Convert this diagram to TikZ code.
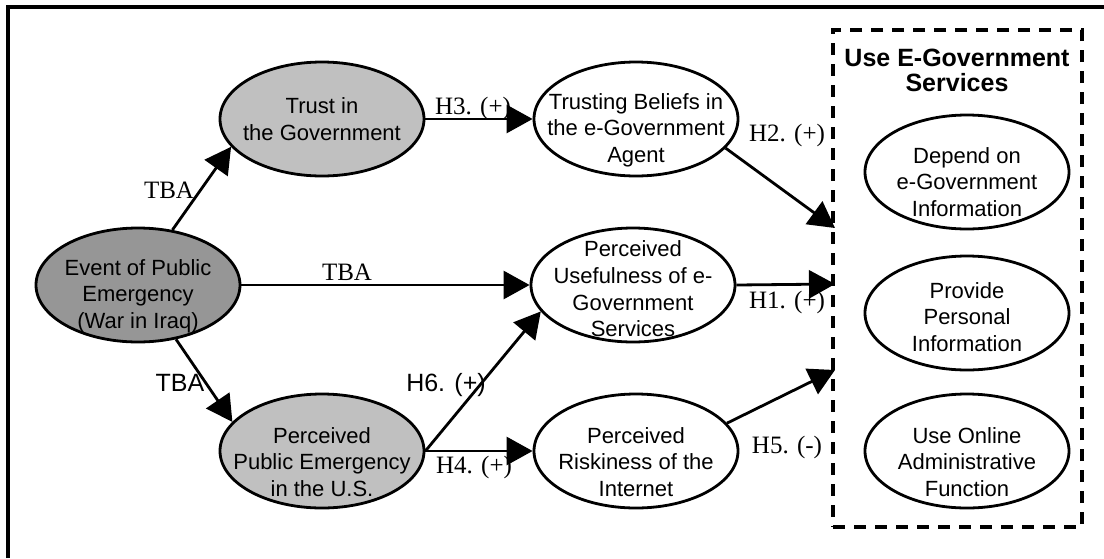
\documentclass[tikz,border=0pt]{standalone}
\usepackage{fontspec}
\setmainfont{Liberation Serif}
\setsansfont{Liberation Sans}
\usetikzlibrary{arrows.meta,shapes.geometric}
\definecolor{paleshade}{HTML}{C0C0C0}
\definecolor{darkshade}{HTML}{969696}
\tikzset{
  oval/.style={ellipse,draw,line width=1.4pt,fill=white,
    minimum width=102pt,minimum height=57pt,inner sep=0pt},
  inside/.style={font=\sffamily\fontsize{11}{13.3}\selectfont,align=center},
  hyp/.style={font=\fontsize{12.5}{14}\selectfont,inner sep=0pt},
  hypsf/.style={font=\sffamily\fontsize{12.5}{14}\selectfont,inner sep=0pt},
  group/.style={draw,line width=1.6pt,dash pattern=on 6pt off 4.5pt,
    minimum width=124.5pt,minimum height=248.5pt,inner sep=0pt},
  flow/.style={-{Triangle[length=13pt,width=14pt]},line width=1.4pt}
}

\begin{document}
\begin{tikzpicture}[x=0.5pt,y=-0.5pt]
  \useasboundingbox (0,0) rectangle (1104,558);
  \draw[line width=2pt] (8,558) -- (8,7) -- (1104,7);

  \node[oval,fill=darkshade,label={[inside,yshift=-5.5pt]center:{Event of Public\\Emergency\\(War in Iraq)}}]
    (event) at (138,285) {};
  \node[oval,fill=paleshade,label={[inside]center:{Trust in\\the Government}}]
    (trust) at (322,119) {};
  \node[oval,fill=paleshade,label={[inside,yshift=-5.5pt]center:{Perceived\\Public Emergency\\in the U.S.}}]
    (ppe) at (322,451) {};
  \node[oval,label={[inside,yshift=-5.5pt]center:{Trusting Beliefs in\\the e-Government\\Agent}}]
    (belief) at (636,119) {};
  \node[oval,label={[inside,yshift=-2pt]center:{Perceived\\Usefulness of e-\\Government\\Services}}]
    (useful) at (633,285) {};
  \node[oval,label={[inside,yshift=-5.5pt]center:{Perceived\\Riskiness of the\\Internet}}]
    (risk) at (636,451) {};

  % outcome group
  \node[group] (usebox) at (957.5,278.5) {};
  \node[font=\sffamily\bfseries\fontsize{12.5}{12.5}\selectfont,align=center]
    (usetitle) at (957,70) {Use E-Government\\Services};
  \node[oval,label={[inside,yshift=-5pt]center:{Depend on\\e-Government\\Information}}]
    (depend) at (967,172) {};
  \node[oval,label={[inside,yshift=-2pt]center:{Provide\\Personal\\Information}}]
    (provide) at (967,313) {};
  \node[oval,label={[inside,yshift=-5.5pt]center:{Use Online\\Administrative\\Function}}]
    (online) at (967,451) {};
  \coordinate (toH2) at (835,228);
  \coordinate (toH1) at (835,284);
  \coordinate (toH5) at (835,370);

  \draw[flow] (event.58) -- (trust.197);
  \draw[flow] (event.east) -- (useful.west);
  \draw[flow] (event.305) -- (ppe.162);
  \draw[flow] (trust.east) -- (belief.west);
  \draw[flow] (ppe.east) -- (risk.west);
  \draw[flow] (ppe.east) -- (useful.196);
  \draw[flow] (belief.342) -- (toH2);
  \draw[flow] (useful.east) -- (toH1);
  \draw[flow] (risk.17) -- (toH5);

  \node[hyp] (tbatop) at (169,190) {TBA};
  \node[hyp] (tbamid) at (347,272) {TBA};
  \node[hypsf] (tbalow) at (180,383) {TBA};
  \node[hyp] (h3) at (473,108) {H3. (+)};
  \node[hypsf] (h6) at (446,385) {H6. (+)};
  \node[hyp] (h4) at (474,467) {H4. (+)};
  \node[hyp] (h2) at (787,135) {H2. (+)};
  \node[hyp] (h1) at (787,302) {H1. (+)};
  \node[hyp] (h5) at (787,447) {H5. (-)};
\end{tikzpicture}
\end{document}
